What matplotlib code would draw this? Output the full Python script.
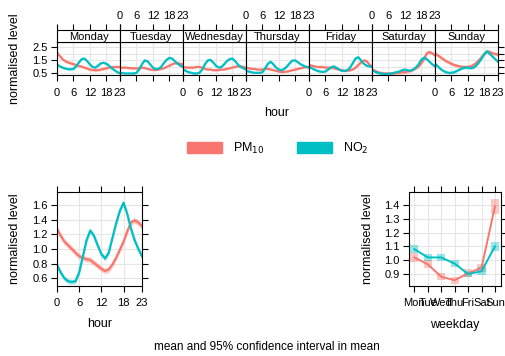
import matplotlib
matplotlib.use('Agg')
import matplotlib.pyplot as plt
from matplotlib.patches import Patch
import numpy as np

plt.rcParams['font.family'] = ['Liberation Sans', 'DejaVu Sans']

W, H = 505, 356
RED = '#F8766D'
TEAL = '#00BFC4'
GRID = '#e6e6e6'

# ---- data ----
hours = list(range(24))
days = ['Monday', 'Tuesday', 'Wednesday', 'Thursday', 'Friday', 'Saturday', 'Sunday']
day_abbr = ['Mon', 'Tue', 'Wed', 'Thu', 'Fri', 'Sat', 'Sun']

pm10_day_hour = [
    [2.10, 1.85, 1.60, 1.45, 1.35, 1.28, 1.22, 1.15, 1.08, 1.02, 0.95, 0.88, 0.80, 0.77, 0.75, 0.76, 0.80, 0.85, 0.90, 0.95, 0.98, 1.00, 1.00, 1.00],
    [0.95, 0.95, 0.95, 0.92, 0.90, 0.90, 0.88, 0.90, 0.95, 0.92, 0.85, 0.80, 0.78, 0.76, 0.80, 0.85, 0.90, 1.00, 1.10, 1.20, 1.28, 1.30, 1.25, 1.20],
    [1.00, 0.95, 0.95, 0.95, 0.95, 1.00, 1.00, 0.95, 0.85, 0.80, 0.80, 0.75, 0.75, 0.75, 0.80, 0.80, 0.85, 0.90, 0.95, 1.00, 1.05, 1.05, 1.00, 0.95],
    [0.95, 0.90, 0.85, 0.85, 0.80, 0.80, 0.80, 0.85, 0.85, 0.80, 0.75, 0.70, 0.65, 0.60, 0.62, 0.65, 0.70, 0.75, 0.80, 0.85, 0.90, 0.95, 1.00, 1.00],
    [1.15, 1.10, 1.05, 1.00, 1.00, 1.00, 0.95, 0.95, 0.95, 0.90, 0.85, 0.80, 0.75, 0.70, 0.72, 0.75, 0.80, 0.95, 1.15, 1.35, 1.50, 1.45, 1.20, 1.00],
    [0.80, 0.70, 0.60, 0.55, 0.50, 0.50, 0.50, 0.50, 0.50, 0.55, 0.55, 0.60, 0.60, 0.65, 0.70, 0.80, 0.90, 1.05, 1.30, 1.60, 2.05, 2.15, 2.05, 1.90],
    [2.05, 1.90, 1.75, 1.60, 1.45, 1.35, 1.25, 1.15, 1.10, 1.05, 1.00, 1.00, 1.00, 1.05, 1.15, 1.30, 1.50, 1.75, 2.00, 2.20, 2.15, 2.05, 2.00, 1.95],
]
no2_day_hour = [
    [1.20, 1.05, 0.95, 0.88, 0.83, 0.82, 0.85, 1.05, 1.35, 1.60, 1.65, 1.45, 1.20, 1.00, 0.95, 1.10, 1.28, 1.32, 1.25, 1.10, 0.90, 0.75, 0.60, 0.52],
    [0.55, 0.52, 0.50, 0.50, 0.50, 0.50, 0.55, 0.80, 1.20, 1.50, 1.45, 1.20, 0.95, 0.85, 0.85, 1.00, 1.30, 1.55, 1.70, 1.65, 1.45, 1.25, 1.10, 1.00],
    [0.80, 0.70, 0.60, 0.55, 0.50, 0.50, 0.55, 0.80, 1.20, 1.50, 1.55, 1.35, 1.10, 0.95, 1.00, 1.20, 1.45, 1.60, 1.65, 1.45, 1.20, 1.00, 0.90, 0.80],
    [0.70, 0.65, 0.60, 0.55, 0.55, 0.55, 0.60, 0.90, 1.25, 1.40, 1.20, 0.95, 0.80, 0.75, 0.85, 1.05, 1.30, 1.50, 1.50, 1.35, 1.20, 1.10, 1.00, 0.95],
    [1.00, 0.90, 0.80, 0.70, 0.65, 0.62, 0.65, 0.80, 0.95, 1.05, 0.95, 0.80, 0.70, 0.70, 0.75, 0.95, 1.30, 1.65, 1.75, 1.50, 1.25, 1.10, 1.05, 1.00],
    [0.75, 0.65, 0.55, 0.50, 0.48, 0.45, 0.45, 0.50, 0.55, 0.60, 0.65, 0.75, 0.80, 0.75, 0.70, 0.80, 0.95, 1.20, 1.55, 1.72, 1.60, 1.40, 1.20, 1.05],
    [1.25, 1.05, 0.85, 0.70, 0.60, 0.55, 0.55, 0.60, 0.70, 0.80, 0.90, 0.95, 0.95, 0.90, 0.95, 1.10, 1.35, 1.65, 2.00, 2.20, 2.00, 1.80, 1.60, 1.40],
]
pm10_day_ci = [0.10, 0.07, 0.06, 0.06, 0.08, 0.13, 0.13]
no2_day_ci = [0.07, 0.06, 0.06, 0.06, 0.06, 0.07, 0.09]

pm10_hour = [1.27, 1.18, 1.10, 1.05, 1.00, 0.95, 0.90, 0.88, 0.86, 0.85, 0.81, 0.77,
             0.73, 0.70, 0.72, 0.79, 0.88, 0.99, 1.10, 1.24, 1.36, 1.39, 1.36, 1.31]
no2_hour = [0.78, 0.68, 0.60, 0.56, 0.55, 0.56, 0.68, 0.90, 1.12, 1.25, 1.18, 1.05,
            0.93, 0.87, 0.95, 1.15, 1.35, 1.52, 1.63, 1.48, 1.28, 1.12, 1.00, 0.90]
pm10_hour_ci = 0.04
no2_hour_ci = 0.035

pm10_weekday = [1.02, 0.97, 0.88, 0.855, 0.905, 0.945, 1.39]
no2_weekday = [1.08, 1.02, 1.02, 0.975, 0.90, 0.92, 1.10]
pm10_weekday_ci = [0.03, 0.03, 0.025, 0.025, 0.03, 0.03, 0.055]
no2_weekday_ci = [0.03, 0.025, 0.025, 0.025, 0.025, 0.03, 0.035]

fig = plt.figure(figsize=(W / 100, H / 100), dpi=100)


def px_axes(x0, y0, x1, y1):
    return fig.add_axes([x0 / W, 1 - y1 / H, (x1 - x0) / W, (y1 - y0) / H])


def style(ax):
    for s in ax.spines.values():
        s.set_linewidth(0.8)
        s.set_color('black')
    ax.tick_params(direction='out', length=4.3, width=0.8, colors='black',
                   labelsize=8, pad=2.5)
    ax.set_axisbelow(True)


def band(ax, x, y, ci, color):
    y = np.asarray(y)
    ax.fill_between(x, y - ci, y + ci, color=color, alpha=0.35, lw=0)
    ax.plot(x, y, color=color, lw=1.6)


# ---- top: hour by weekday ----
left, pw = 57, 63
for i, day in enumerate(days):
    x0 = left + i * pw
    ax = px_axes(x0, 42, x0 + pw, 75)
    style(ax)
    band(ax, hours, pm10_day_hour[i], pm10_day_ci[i], RED)
    band(ax, hours, no2_day_hour[i], no2_day_ci[i], TEAL)
    ax.set_xlim(0, 23)
    ax.set_ylim(0.38, 2.92)
    ax.set_xticks([0, 6, 12, 18, 23])
    ax.set_yticks([0.5, 1.0, 1.5, 2.0, 2.5])
    ax.grid(color=GRID, lw=0.8)
    ax.tick_params(axis='x', top=False, pad=5, labelbottom=(i % 2 == 0))
    ax.tick_params(axis='y', left=False, right=False, labelleft=False)
    if i == 0:
        ax.tick_params(axis='y', left=True, labelleft=True)
        ax.set_yticks([0.5, 1.5, 2.5])
        ax.set_yticks([1.0, 2.0], minor=True)
        ax.tick_params(axis='y', which='minor', left=False)
        ax.grid(True, which='minor', axis='y', color=GRID, lw=0.8)
        ax.set_ylabel('normalised level', fontsize=9)
        ax.yaxis.set_label_coords((21 - x0) / pw, 0.5)
    if i == len(days) - 1:
        ax.tick_params(axis='y', right=True)

    sx = px_axes(x0, 30, x0 + pw, 42)
    style(sx)
    sx.set_xlim(0, 23)
    sx.set_ylim(0, 1)
    sx.set_xticks([0, 6, 12, 18, 23])
    sx.set_yticks([])
    sx.tick_params(axis='x', bottom=False, labelbottom=False, top=True,
                   labeltop=(i % 2 == 1))
    sx.text(0.5, 0.45, day, transform=sx.transAxes, ha='center', va='center',
            fontsize=8)

fig.text(277 / W, 1 - 113 / H, 'hour', ha='center', va='center', fontsize=9)

# ---- legend ----
handles = [Patch(color=RED, label='PM$_{10}$'), Patch(color=TEAL, label='NO$_2$')]
fig.legend(handles=handles, ncol=2, loc='center', bbox_to_anchor=(278 / W, 1 - 148 / H),
           frameon=False, fontsize=9, handlelength=2.8, handleheight=0.95,
           handletextpad=0.9, columnspacing=2.6)

# ---- bottom left: hour ----
ax = px_axes(57, 192, 142, 286)
style(ax)
band(ax, hours, pm10_hour, pm10_hour_ci, RED)
band(ax, hours, no2_hour, no2_hour_ci, TEAL)
ax.set_xlim(0, 23)
ax.set_ylim(0.495, 1.777)
ax.set_xticks([0, 6, 12, 18, 23])
ax.set_yticks([0.6, 0.8, 1.0, 1.2, 1.4, 1.6])
ax.yaxis.set_major_formatter(matplotlib.ticker.FormatStrFormatter('%.1f'))
ax.grid(color=GRID, lw=0.8)
ax.tick_params(top=True, right=True)
ax.tick_params(axis='x', pad=4)
ax.set_ylabel('normalised level', fontsize=9)
ax.yaxis.set_label_coords((21 - 57) / 85, 0.5)
ax.set_xlabel('hour', fontsize=9)
ax.xaxis.set_label_coords(0.5, -(318 - 286) / 94)

# ---- bottom right: weekday ----
ax = px_axes(409, 192, 501, 286)
style(ax)
wx = np.arange(1, 8)
for vals, cis, col in [(pm10_weekday, pm10_weekday_ci, RED),
                       (no2_weekday, no2_weekday_ci, TEAL)]:
    vals = np.asarray(vals)
    cis = np.asarray(cis)
    ax.bar(wx, 2 * cis, bottom=vals - cis, width=0.6, color=col, alpha=0.4, lw=0)
    ax.plot(wx, vals, color=col, lw=1.4)
ax.set_xlim(0.6, 7.45)
ax.set_ylim(0.813, 1.494)
ax.set_xticks(wx)
ax.set_xticklabels(day_abbr)
ax.set_yticks([0.9, 1.0, 1.1, 1.2, 1.3, 1.4])
ax.yaxis.set_major_formatter(matplotlib.ticker.FormatStrFormatter('%.1f'))
ax.grid(color=GRID, lw=0.8)
ax.tick_params(top=True, right=True)
ax.tick_params(axis='x', pad=4)
ax.set_ylabel('normalised level', fontsize=9)
ax.yaxis.set_label_coords((374 - 409) / 92, 0.5)
ax.set_xlabel('weekday', fontsize=9)
ax.xaxis.set_label_coords(0.5, -(319 - 286) / 94)

fig.text(267 / W, 1 - 347 / H, 'mean and 95% confidence interval in mean',
         ha='center', va='center', fontsize=8.5)

fig.savefig('out.png', dpi=100)
